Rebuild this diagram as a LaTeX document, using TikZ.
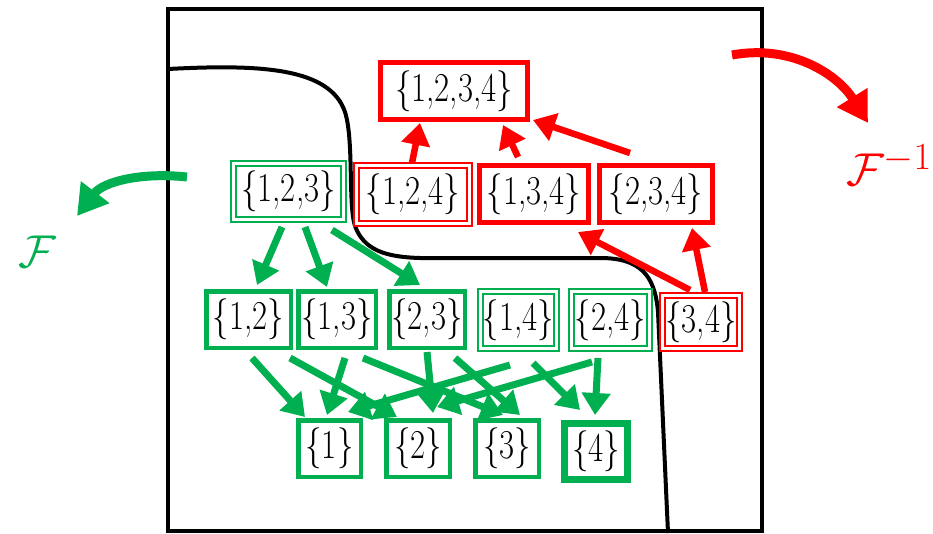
\documentclass[tikz,border=0pt]{standalone}
\usepackage{graphicx}
\usetikzlibrary{arrows.meta}
\definecolor{setgreen}{HTML}{00B050}
\definecolor{setred}{HTML}{FF0000}
\newcommand\setlbl[1]{\scalebox{0.8}[1]{#1}}
\newcommand\maplbl[1]{\scalebox{1.85}{\fontsize{24.88}{24.88}\selectfont$#1$}}
\tikzset{
  setnode/.style={inner sep=0pt, font=\fontsize{41}{41}\selectfont},
  redbox/.style={setnode, draw=setred, line width=5pt},
  greenbox/.style={setnode, draw=setgreen, line width=4.5pt},
  reddbl/.style={setnode, draw=setred, line width=1.8pt, double=white, double distance=3pt},
  greendbl/.style={setnode, draw=setgreen, line width=1.8pt, double=white, double distance=3pt},
  gedge/.style={draw=setgreen, line width=7pt, -{Triangle[length=22pt,width=28pt]}},
  redge/.style={draw=setred, line width=6.5pt, -{Triangle[length=22pt,width=28pt]}},
  bigarrow/.style={line width=9pt, -{Triangle[length=30pt,width=34pt]}},
  border/.style={draw=black, line width=4pt},
}
% arrow between two nodes, each end shifted from the node centre
\newcommand\conn[5]{\draw[#1] ([shift={(#3)}]#2.center) -- ([shift={(#5)}]#4.center);}
\begin{document}
\begin{tikzpicture}[x=1pt,y=-1pt]
\useasboundingbox (0,0) rectangle (933,533);

% frame and dividing curve
\draw[border] (168,9) rectangle (762,531);
\draw[border] (168,69) .. controls (262,64) and (330,68) .. (345,112)
  .. controls (354,140) and (348,205) .. (355,226)
  .. controls (364,250) and (385,257) .. (420,258) -- (600,258)
  .. controls (640,258) and (655,275) .. (658,312) -- (668,533);

% sets
\node[redbox, minimum width=147pt, minimum height=57pt] (n1234) at (454,91) {\setlbl{\{1,2,3,4\}}};
\node[greendbl, minimum width=110pt, minimum height=56pt] (n123) at (288.5,191.5) {\setlbl{\{1,2,3\}}};
\node[reddbl, minimum width=113pt, minimum height=58pt] (n124) at (413,194.5) {\setlbl{\{1,2,4\}}};
\node[redbox, minimum width=109pt, minimum height=57pt] (n134) at (534,194) {\setlbl{\{1,3,4\}}};
\node[redbox, minimum width=113pt, minimum height=57pt] (n234) at (656,194) {\setlbl{\{2,3,4\}}};

\node[greenbox, minimum width=84.5pt, minimum height=56.5pt] (n12) at (248.5,319.5) {\setlbl{\{1,2\}}};
\node[greenbox, minimum width=77.5pt, minimum height=56.5pt] (n13) at (337,319.5) {\setlbl{\{1,3\}}};
\node[greenbox, minimum width=75.5pt, minimum height=56.5pt] (n23) at (427,319.5) {\setlbl{\{2,3\}}};
\node[greendbl, minimum width=76pt, minimum height=57pt] (n14) at (518.5,320) {\setlbl{\{1,4\}}};
\node[greendbl, minimum width=78pt, minimum height=57pt] (n24) at (610.5,320) {\setlbl{\{2,4\}}};
\node[reddbl, minimum width=77pt, minimum height=53pt] (n34) at (701,322) {\setlbl{\{3,4\}}};

\node[greenbox, minimum width=62.5pt, minimum height=56.5pt] (n1) at (329.5,448.5) {\setlbl{\{1\}}};
\node[greenbox, minimum width=63.5pt, minimum height=56.5pt] (n2) at (418,448.5) {\setlbl{\{2\}}};
\node[greenbox, minimum width=63.5pt, minimum height=56.5pt] (n3) at (507,448.5) {\setlbl{\{3\}}};
\node[greenbox, line width=7pt, minimum width=63pt, minimum height=56pt] (n4) at (596,451.5) {\setlbl{\{4\}}};

% green edges
\conn{gedge}{n123}{-6.5,35.5}{n12}{8.5,-34.5}
\conn{gedge}{n123}{16.5,35.5}{n13}{-10,-32.5}
\conn{gedge}{n123}{43.5,38.5}{n23}{-7,-34.5}
\conn{gedge}{n12}{3.5,38.5}{n1}{-24.5,-31.5}
\conn{gedge}{n12}{41.5,38.5}{n2}{-21,-31.5}
\conn{gedge}{n13}{8,38.5}{n1}{-2.5,-33.5}
\conn{gedge}{n13}{26,38.5}{n3}{-4,-33.5}
\conn{gedge}{n23}{0,32.5}{n2}{15,-35.5}
\conn{gedge}{n23}{28,38.5}{n3}{13,-33.5}
\conn{gedge}{n14}{-8.5,45}{n1}{18.5,-36.5}
\conn{gedge}{n14}{14.5,43}{n4}{-16,-41.5}
\conn{gedge}{n24}{-18.5,42}{n2}{19,-41.5}
\conn{gedge}{n24}{-12.5,38}{n4}{-1,-36.5}

% red edges
\conn{redge}{n124}{-1,-31.5}{n1234}{-34,32}
\conn{redge}{n134}{-16,-37}{n1234}{49,34}
\conn{redge}{n234}{-26,-41}{n1234}{79,29}
\conn{redge}{n34}{-11,-32}{n134}{44,38}
\conn{redge}{n34}{4,-30}{n234}{36,34}

% the two maps
\coordinate (rstart) at (732,55);
\coordinate (rend) at (868,123);
\draw[bigarrow, setred] (rstart) .. controls (792,44) and (838,75) .. (rend);
\node[text=setred, inner sep=0pt] (finv) at (889,165) {\maplbl{\mathcal{F}^{-1}}};

\coordinate (gstart) at (187,177);
\coordinate (gend) at (77,216);
\draw[bigarrow, setgreen] (gstart) .. controls (140,172) and (103,182) .. (gend);
\node[text=setgreen, inner sep=0pt] (f) at (37,252) {\maplbl{\mathcal{F}}};
\end{tikzpicture}
\end{document}
